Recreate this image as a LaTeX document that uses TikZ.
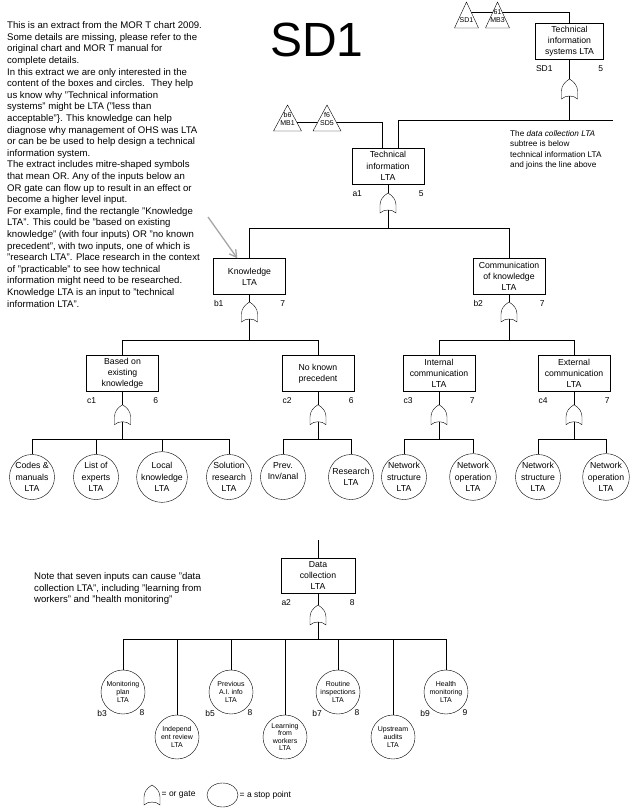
\documentclass[tikz,border=0pt]{standalone}
\usepackage{fontspec}
\setmainfont{Liberation Sans}
\usepackage{tikz}
\usetikzlibrary{shapes.geometric,arrows.meta,calc}
\tikzstyle{event}=[draw,minimum width=72pt,minimum height=36pt,inner sep=1pt,align=center,font=\fontsize{8.7}{11.2}\selectfont]
\tikzstyle{stop}=[draw,circle,minimum size=45pt,inner sep=0pt,align=center,font=\fontsize{8.7}{11.5}\selectfont]
\tikzstyle{minor}=[draw,circle,minimum size=44pt,inner sep=0pt,align=center,font=\fontsize{7}{7.6}\selectfont]
\tikzstyle{tag}=[inner sep=0.5pt,font=\fontsize{8.5}{10}\selectfont]
\tikzstyle{note}=[inner sep=0pt,align=left,anchor=north west,font=\fontsize{9.6}{11.6}\selectfont]
\tikzstyle{pointer}=[gray!70,line width=1.3pt,-{Straight Barb[length=7pt,width=8pt]}]
\tikzset{
  orgate/.pic={
    \draw[fill=white] (0,0) .. controls (-5,3) and (-8,7) .. (-8,12) -- (-8,20)
      .. controls (-4,16) and (4,16) .. (8,20) -- (8,12) .. controls (8,7) and (5,3) .. (0,0) -- cycle;
    \coordinate (-in) at (0,0);
    \coordinate (-out) at (0,17);
  },
  tri w/.store in=\triw, tri w=12,
  transfer/.pic={
    \draw[fill=white] (0,0) -- (-\triw,26) -- (\triw,26) -- cycle;
    \node[font=\fontsize{7}{8.5}\selectfont,align=center,inner sep=0pt,anchor=south] at (0,21) {#1};
  }
}
\newcommand{\boxtags}[3]{%
  \node[tag,anchor=west] at ($(#1.south west)+(0,9)$) {#2};
  \node[tag,anchor=east] at ($(#1.south east)+(0,9)$) {#3};}
\newcommand{\stoptags}[3]{%
  \node[tag] at ($(#1)+(-21,21)$) {#2};
  \node[tag] at ($(#1)+(19,21)$) {#3};}

\begin{document}
\begin{tikzpicture}[x=1pt,y=-1pt]
\useasboundingbox (0,0) rectangle (629,810);

\node[font=\fontsize{48}{48}\selectfont] (title) at (317,40) {SD1};
\node[note] (intro) at (7,21.6) {This is an extract from the MOR T chart 2009.\\
Some details are missing, please refer to the\\
original chart and MOR T manual for\\
complete details.\\
In this extract we are only interested in the\\
content of the boxes and circles.~ They help\\
us know why "Technical information\\
systems" might be LTA ("less than\\
acceptable"\}. This knowledge can help\\
diagnose why management of OHS was LTA\\
or can be be used to help design a technical\\
information system.\\
The extract includes mitre-shaped symbols\\
that mean OR. Any of the inputs below an\\
OR gate can flow up to result in an effect or\\
become a higher level input.\\
For example, find the rectangle "Knowledge\\
LTA". This could be "based on existing\\
knowledge" (with four inputs) OR "no known\\
precedent", with two inputs, one of which is\\
"research LTA". Place research in the context\\
of "practicable" to see how technical\\
information might need to be researched.\\
Knowledge LTA is an input to "technical\\
information LTA".};

\node[event,minimum width=68pt] (tis) at (569.5,41.5) {Technical\\information\\systems LTA};
\boxtags{tis}{SD1}{5}
\coordinate (lk0) at (466,12);
\draw (lk0) -| (tis.north);
\pic at (466.5,2) {transfer={SD1}};
\pic at (497.5,2) {transfer={61\\MB3}};
\pic (gtis) at (569.5,79) {orgate};
\draw (tis.south) -- (gtis-in);

\node[event] (a1) at (388,166) {Technical\\information\\LTA};
\boxtags{a1}{a1}{5}
\coordinate (bus0) at (569.5,120);
\coordinate (join) at (613,120);
\draw (gtis-out) -- (bus0) -| ([xshift=10pt]a1.north);
\draw (bus0) -- (join);
\coordinate (lk1) at (288,122);
\draw (lk1) -| ([xshift=-6pt]a1.north);
\pic[tri w=14] at (287.5,105) {transfer={b6\\MB1}};
\pic[tri w=14] at (327,105) {transfer={f6\\SD5}};
\node[note,font=\fontsize{8.2}{10.6}\selectfont] (joinnote) at (510,130) {The \textit{data collection LTA}\\subtree is below\\technical information LTA\\and joins the line above};

\pic (ga1) at (388,193) {orgate};
\draw (a1.south) -- (ga1-in);
\node[event] (b1) at (249.5,276.5) {Knowledge\\LTA};
\node[event] (b2) at (509,276.5) {Communication\\of knowledge\\LTA};
\boxtags{b1}{b1}{7}
\boxtags{b2}{b2}{7}
\coordinate (bus1) at (388,228);
\draw (ga1-out) -- (bus1) -| (b1.north);
\draw (bus1) -| (b2.north);
\coordinate (ptr) at (208,217);
\draw[pointer] (ptr) -- ([xshift=24pt]b1.north west);

\pic (gb1) at (249.5,302) {orgate};
\pic (gb2) at (509,302) {orgate};
\draw (b1.south) -- (gb1-in);
\draw (b2.south) -- (gb2-in);
\node[event] (c1) at (122.5,373.5) {Based on\\existing\\knowledge};
\node[event] (c2) at (318,373.5) {No known\\precedent};
\node[event] (c3) at (439,373.5) {Internal\\communication\\LTA};
\node[event] (c4) at (574,373.5) {External\\communication\\LTA};
\boxtags{c1}{c1}{6}
\boxtags{c2}{c2}{6}
\boxtags{c3}{c3}{7}
\boxtags{c4}{c4}{7}
\coordinate (bus2) at (249.5,340.5);
\coordinate (bus3) at (509,340.5);
\draw (gb1-out) -- (bus2) -| (c1.north);
\draw (bus2) -| (c2.north);
\draw (gb2-out) -- (bus3) -| (c3.north);
\draw (bus3) -| (c4.north);

\foreach \g in {c1,c2,c3,c4}{
  \pic (g\g) at ($(\g.south)+(0,13)$) {orgate};
  \draw (\g.south) -- (g\g-in);
}
\node[stop] (d1) at (32,477) {Codes \&\\manuals\\LTA};
\node[stop] (d2) at (96,477) {List of\\experts\\LTA};
\node[stop] (d3) at (162,477) {Local\\knowledge\\LTA};
\node[stop] (d4) at (229,477) {Solution\\research\\LTA};
\node[stop] (d5) at (283,477) {Prev.\\Inv/anal\\\phantom{L}};
\node[stop] (d6) at (351,477) {Research\\LTA};
\node[stop] (d7) at (404,477) {Network\\structure\\LTA};
\node[stop] (d8) at (473,477) {Network\\operation\\LTA};
\node[stop] (d9) at (538,477) {Network\\structure\\LTA};
\node[stop] (d10) at (606,477) {Network\\operation\\LTA};
\coordinate (bus4) at (122.5,439.5);
\coordinate (bus5) at (318,439.5);
\coordinate (bus6) at (439,439.5);
\coordinate (bus7) at (574,439.5);
\draw (gc1-out) -- (bus4);
\draw (gc2-out) -- (bus5);
\draw (gc3-out) -- (bus6);
\draw (gc4-out) -- (bus7);
\foreach \n in {d1,d2,d3,d4} \draw (bus4) -| (\n.north);
\foreach \n in {d5,d6} \draw (bus5) -| (\n.north);
\foreach \n in {d7,d8} \draw (bus6) -| (\n.north);
\foreach \n in {d9,d10} \draw (bus7) -| (\n.north);

\node[note] (datanote) at (34,572.6) {Note that seven inputs can cause "data\\collection LTA", including "learning from\\workers" and "health monitoring"};
\node[event,minimum width=74pt,minimum height=35pt] (a2) at (318,575.5) {Data\\collection\\LTA};
\boxtags{a2}{a2}{8}
\coordinate (up) at (318,540);
\draw (a2.north) -- (up);
\pic (ga2) at (318,605) {orgate};
\draw (a2.south) -- (ga2-in);
\coordinate (bus8) at (318,639);
\draw (ga2-out) -- (bus8);
\node[minor] (e1) at (123,692) {Monitoring\\plan\\LTA};
\node[minor] (e2) at (177,737) {Independ\\ent review\\LTA};
\node[minor] (e3) at (231,692) {Previous\\A.I. info\\LTA};
\node[minor] (e4) at (285,737) {Learning\\from\\workers\\LTA};
\node[minor] (e5) at (338,692) {Routine\\inspections\\LTA};
\node[minor] (e6) at (393,737) {Upstream\\audits\\LTA};
\node[minor] (e7) at (446,692) {Health\\monitoring\\LTA};
\foreach \n in {e1,e2,e3,e4,e5,e6,e7} \draw (bus8) -| (\n.north);
\stoptags{e1}{b3}{8}
\stoptags{e3}{b5}{8}
\stoptags{e5}{b7}{8}
\stoptags{e7}{b9}{9}

\pic (key1) at (152,785) {orgate};
\node[tag,anchor=west] (key1t) at (161,795) {= or gate};
\node[draw,ellipse,minimum width=31pt,minimum height=24pt] (key2) at (222.5,795) {};
\node[tag,anchor=west] (key2t) at (239,795) {= a stop point};
\end{tikzpicture}
\end{document}
